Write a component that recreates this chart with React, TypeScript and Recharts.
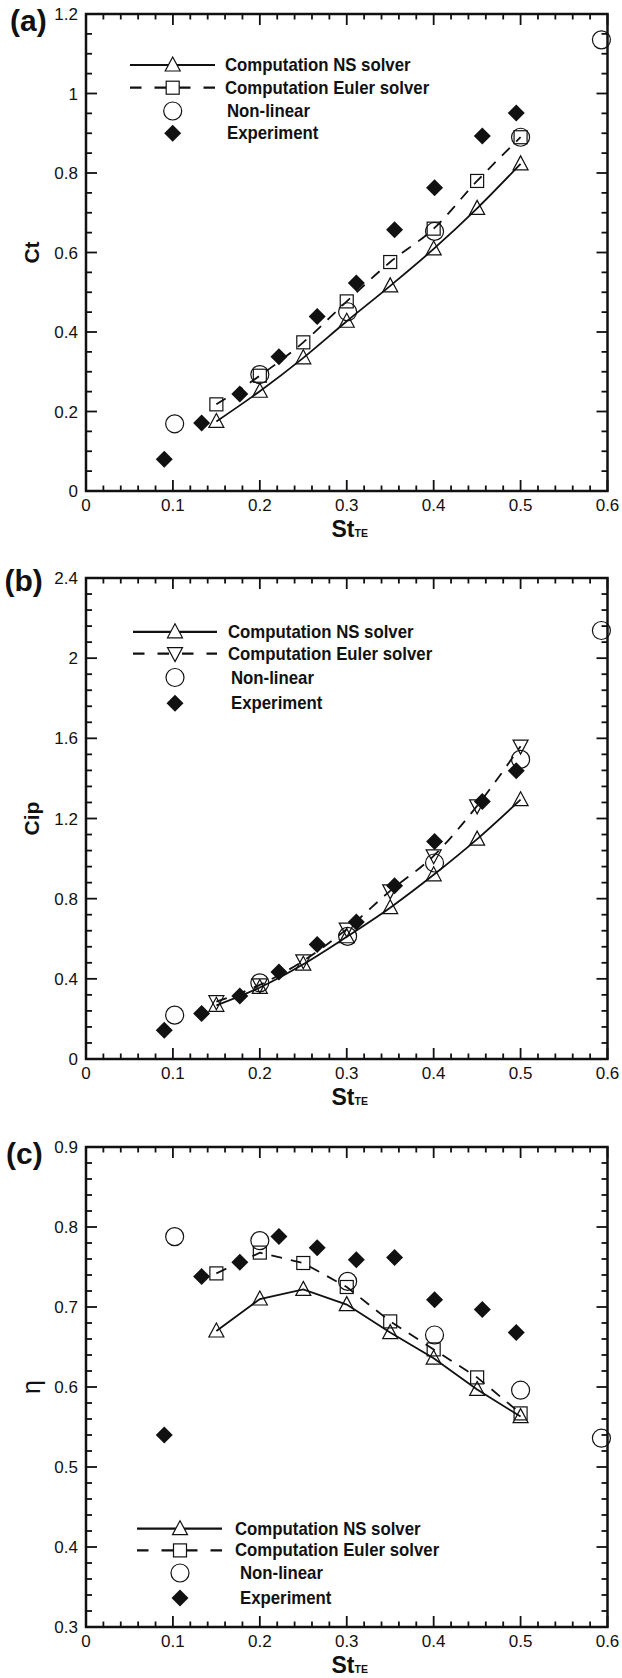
import React from 'react';
import { ComposedChart, Line, Scatter, XAxis, YAxis, ReferenceArea, Legend, Label } from 'recharts';

const ink = '#111';
const font = "'Liberation Sans', Arial, Helvetica, sans-serif";

// Strouhal numbers of the samples
const stComputed = [0.15, 0.2, 0.25, 0.3, 0.35, 0.4, 0.45, 0.5];
const stNonLinear = [0.102, 0.2, 0.301, 0.401, 0.5, 0.593];
const stExperiment = [0.09, 0.133, 0.177, 0.222, 0.266, 0.311, 0.355, 0.401, 0.456, 0.495];

// (a) thrust coefficient
const ctNS = [0.175, 0.251, 0.335, 0.427, 0.516, 0.609, 0.711, 0.823];
const ctEuler = [0.218, 0.29, 0.374, 0.477, 0.576, 0.66, 0.78, 0.89];
const ctNonLinear = [0.169, 0.293, 0.451, 0.653, 0.89, 1.135];
const ctExperiment = [0.08, 0.171, 0.244, 0.338, 0.439, 0.523, 0.657, 0.763, 0.893, 0.951];

// (b) input power coefficient
const cipNS = [0.268, 0.357, 0.473, 0.61, 0.755, 0.919, 1.097, 1.294];
const cipEuler = [0.286, 0.37, 0.49, 0.648, 0.839, 1.014, 1.263, 1.561];
const cipNonLinear = [0.219, 0.38, 0.612, 0.978, 1.495, 2.138];
const cipExperiment = [0.143, 0.227, 0.314, 0.434, 0.571, 0.683, 0.865, 1.085, 1.285, 1.438];

// (c) propulsive efficiency
const etaNS = [0.67, 0.71, 0.722, 0.703, 0.668, 0.636, 0.597, 0.563];
const etaEuler = [0.742, 0.768, 0.755, 0.725, 0.682, 0.647, 0.612, 0.567];
const etaNonLinear = [0.788, 0.783, 0.732, 0.665, 0.596, 0.536];
const etaExperiment = [0.54, 0.738, 0.756, 0.788, 0.774, 0.759, 0.762, 0.709, 0.697, 0.668];

const seriesNames = ['Computation NS solver', 'Computation Euler solver', 'Non-linear', 'Experiment'];

const xMajor = [0, 0.1, 0.2, 0.3, 0.4, 0.5, 0.6];
const xLabels = ['0', '0.1', '0.2', '0.3', '0.4', '0.5', '0.6'];
const ctMajor = [0, 0.2, 0.4, 0.6, 0.8, 1, 1.2];
const ctLabels = ['0', '0.2', '0.4', '0.6', '0.8', '1', '1.2'];
const cipMajor = [0, 0.4, 0.8, 1.2, 1.6, 2, 2.4];
const cipLabels = ['0', '0.4', '0.8', '1.2', '1.6', '2', '2.4'];
const etaMajor = [0.3, 0.4, 0.5, 0.6, 0.7, 0.8, 0.9];
const etaLabels = ['0.3', '0.4', '0.5', '0.6', '0.7', '0.8', '0.9'];

const W = 622;
const LEFT = 86;
const RIGHT_MARGIN = 14.5;
const PLOT_RIGHT = W - RIGHT_MARGIN;

const withMinor = (major: number[], step: number) => {
  const out: number[] = [];
  const n = Math.round((major[major.length - 1] - major[0]) / step);
  for (let k = 0; k <= n; k++) out.push(Math.round((major[0] + k * step) * 10000) / 10000);
  return out;
};

const isMajor = (list: number[], v: number) => list.findIndex((t) => Math.abs(t - v) < 1e-6);

const toPoints = (xs: number[], ys: number[]) => xs.map((x, i) => ({ x, y: ys[i] }));

// marker glyphs
const triUp = (cx: number, cy: number, fill = 'none') => (
  <path d={`M${cx},${cy - 8}L${cx + 7.5},${cy + 6}L${cx - 7.5},${cy + 6}Z`} fill={fill} stroke={ink} strokeWidth={1.2} />
);
const triDown = (cx: number, cy: number, fill = 'none') => (
  <path d={`M${cx},${cy + 8}L${cx + 7.5},${cy - 6}L${cx - 7.5},${cy - 6}Z`} fill={fill} stroke={ink} strokeWidth={1.2} />
);
const square = (cx: number, cy: number, fill = 'none') => (
  <rect x={cx - 6.5} y={cy - 6.5} width={13} height={13} fill={fill} stroke={ink} strokeWidth={1.2} />
);
const ring = (cx: number, cy: number, fill = 'none') => (
  <circle cx={cx} cy={cy} r={9} fill={fill} stroke={ink} strokeWidth={1.2} />
);
const diamond = (cx: number, cy: number) => (
  <path d={`M${cx},${cy - 8.5}L${cx + 8.5},${cy}L${cx},${cy + 8.5}L${cx - 8.5},${cy}Z`} fill={ink} />
);

type Glyph = (cx: number, cy: number, fill?: string) => React.ReactElement;

const dotOf = (g: Glyph) => (p: any) => <g key={`d${p.index}`}>{g(p.cx, p.cy)}</g>;
const shapeOf = (g: Glyph) => (p: any) => {
  const cx = p.cx ?? p.x + (p.width || 0) / 2;
  const cy = p.cy ?? p.y + (p.height || 0) / 2;
  return <g>{g(cx, cy)}</g>;
};

interface LegendSpot {
  rows: number[];
  line: [number, number];
  marker: number;
  text: [number, number];
}

interface PanelProps {
  height: number;
  top: number;
  xAxisHeight: number;
  yMajor: number[];
  yLabels: string[];
  yStep: number;
  yTitle: React.ReactNode;
  tag: string;
  tagPos: [number, number];
  ns: number[];
  euler: number[];
  nonLinear: number[];
  experiment: number[];
  eulerGlyph: Glyph;
  curve: 'monotone' | 'linear';
  legend: LegendSpot;
}

const Panel = (cfg: PanelProps) => {
  const plotTop = cfg.top;
  const plotBottom = cfg.height - cfg.xAxisHeight;
  const yDomain: [number, number] = [cfg.yMajor[0], cfg.yMajor[cfg.yMajor.length - 1]];

  const xTick = (p: any) => {
    const { x, y, payload } = p;
    const i = isMajor(xMajor, payload.value);
    const len = i >= 0 ? 11 : 5.5;
    return (
      <g>
        <line x1={x} y1={y} x2={x} y2={y - len} stroke={ink} strokeWidth={1.8} />
        <line x1={x} y1={plotTop} x2={x} y2={plotTop + len} stroke={ink} strokeWidth={1.8} />
        {i >= 0 && (
          <text x={x} y={y + 20} textAnchor="middle" fontSize={17} fill={ink} fontFamily={font}>
            {xLabels[i]}
          </text>
        )}
      </g>
    );
  };

  const yTick = (p: any) => {
    const { x, y, payload } = p;
    const i = isMajor(cfg.yMajor, payload.value);
    const len = i >= 0 ? 11 : 6;
    return (
      <g>
        <line x1={x} y1={y} x2={x + len} y2={y} stroke={ink} strokeWidth={1.8} />
        <line x1={PLOT_RIGHT} y1={y} x2={PLOT_RIGHT - len} y2={y} stroke={ink} strokeWidth={1.8} />
        {i >= 0 && (
          <text x={x - 8} y={y + 6} textAnchor="end" fontSize={17} fill={ink} fontFamily={font}>
            {cfg.yLabels[i]}
          </text>
        )}
      </g>
    );
  };

  const lg = cfg.legend;
  const glyphs: Glyph[] = [triUp, cfg.eulerGlyph, ring];
  const legendContent = () => (
    <svg width={W} height={cfg.height} style={{ display: 'block', overflow: 'visible' }}>
      <line x1={lg.line[0]} y1={lg.rows[0]} x2={lg.line[1]} y2={lg.rows[0]} stroke={ink} strokeWidth={2.2} />
      <line x1={lg.line[0]} y1={lg.rows[1]} x2={lg.line[1]} y2={lg.rows[1]} stroke={ink} strokeWidth={2.2} strokeDasharray="11.5 13" />
      {glyphs.map((g, i) => <g key={i}>{g(lg.marker, lg.rows[i], '#fff')}</g>)}
      {diamond(lg.marker, lg.rows[3])}
      {seriesNames.map((name, i) => (
        <text
          key={name}
          transform={`translate(${i < 2 ? lg.text[0] : lg.text[1]}, ${lg.rows[i] + 6}) scale(1, 1.1)`}
          fontSize={16.8}
          fontWeight="bold"
          fill={ink}
          fontFamily={font}
        >
          {name}
        </text>
      ))}
    </svg>
  );

  return (
    <ComposedChart
      width={W}
      height={cfg.height}
      margin={{ top: cfg.top, right: RIGHT_MARGIN, left: 0, bottom: 0 }}
      style={{ display: 'block' }}
    >
      <XAxis
        type="number"
        dataKey="x"
        domain={[0, 0.6]}
        ticks={withMinor(xMajor, 0.02)}
        interval={0}
        height={cfg.xAxisHeight}
        tickSize={0}
        tickMargin={0}
        tickLine={false}
        axisLine={false}
        tick={xTick}
      >
        <Label
          content={() => (
            <text x={(LEFT + PLOT_RIGHT) / 2 + 3} y={plotBottom + 45.5} textAnchor="middle" fill={ink} fontFamily={font} fontWeight="bold">
              <tspan fontSize={23}>St</tspan>
              <tspan fontSize={10.5}>TE</tspan>
            </text>
          )}
        />
      </XAxis>
      <YAxis
        type="number"
        dataKey="y"
        domain={yDomain}
        ticks={withMinor(cfg.yMajor, cfg.yStep)}
        interval={0}
        width={LEFT}
        tickSize={0}
        tickMargin={0}
        tickLine={false}
        axisLine={false}
        tick={yTick}
      >
        <Label
          content={() => (
            <text
              transform={`translate(31, ${(plotTop + plotBottom) / 2}) rotate(-90)`}
              textAnchor="middle"
              dominantBaseline="central"
              fill={ink}
              fontFamily={font}
            >
              {cfg.yTitle}
            </text>
          )}
        />
        <Label
          content={() => (
            <text x={cfg.tagPos[0]} y={cfg.tagPos[1]} fontSize={30} fontWeight="bold" fill={ink} fontFamily={font}>
              {cfg.tag}
            </text>
          )}
        />
      </YAxis>
      <ReferenceArea x1={0} x2={0.6} y1={yDomain[0]} y2={yDomain[1]} fill="none" stroke={ink} strokeWidth={2.5} />
      <Line
        data={toPoints(stComputed, cfg.euler)}
        dataKey="y"
        type={cfg.curve}
        stroke={ink}
        strokeWidth={1.8}
        strokeDasharray="11 9"
        dot={dotOf(cfg.eulerGlyph)}
        activeDot={false}
        isAnimationActive={false}
      />
      <Line
        data={toPoints(stComputed, cfg.ns)}
        dataKey="y"
        type={cfg.curve}
        stroke={ink}
        strokeWidth={1.8}
        dot={dotOf(triUp)}
        activeDot={false}
        isAnimationActive={false}
      />
      <Scatter data={toPoints(stNonLinear, cfg.nonLinear)} dataKey="y" shape={shapeOf(ring)} isAnimationActive={false} />
      <Scatter data={toPoints(stExperiment, cfg.experiment)} dataKey="y" shape={shapeOf(diamond)} isAnimationActive={false} />
      <Legend
        layout="vertical"
        align="center"
        verticalAlign="middle"
        content={legendContent}
        wrapperStyle={{ left: 0, top: 0, width: W, height: cfg.height, pointerEvents: 'none' }}
      />
    </ComposedChart>
  );
};

export default function App() {
  return (
    <div style={{ position: 'absolute', left: 0, top: 0, width: W, height: 1678, background: '#fff' }}>
      <Panel
        height={548}
        top={14}
        xAxisHeight={57}
        yMajor={ctMajor}
        yLabels={ctLabels}
        yStep={0.05}
        yTitle={<tspan fontSize={21} fontWeight="bold">Ct</tspan>}
        tag="(a)"
        tagPos={[10, 30.5]}
        ns={ctNS}
        euler={ctEuler}
        nonLinear={ctNonLinear}
        experiment={ctExperiment}
        eulerGlyph={square}
        curve="monotone"
        legend={{ rows: [65, 87.7, 111, 133.3], line: [130, 215], marker: 172.7, text: [225, 227] }}
      />
      <Panel
        height={564}
        top={30}
        xAxisHeight={53}
        yMajor={cipMajor}
        yLabels={cipLabels}
        yStep={0.08}
        yTitle={<tspan fontSize={21} fontWeight="bold">Cip</tspan>}
        tag="(b)"
        tagPos={[4.5, 43]}
        ns={cipNS}
        euler={cipEuler}
        nonLinear={cipNonLinear}
        experiment={cipExperiment}
        eulerGlyph={triDown}
        curve="monotone"
        legend={{ rows: [83.8, 105.6, 129.5, 155.2], line: [133, 217], marker: 175, text: [228, 231] }}
      />
      <Panel
        height={566}
        top={35}
        xAxisHeight={51}
        yMajor={etaMajor}
        yLabels={etaLabels}
        yStep={0.02}
        yTitle={<tspan fontSize={25}>η</tspan>}
        tag="(c)"
        tagPos={[6, 52]}
        ns={etaNS}
        euler={etaEuler}
        nonLinear={etaNonLinear}
        experiment={etaExperiment}
        eulerGlyph={square}
        curve="linear"
        legend={{ rows: [416.7, 438.4, 461, 486], line: [137, 222], marker: 180, text: [235, 240] }}
      />
    </div>
  );
}
